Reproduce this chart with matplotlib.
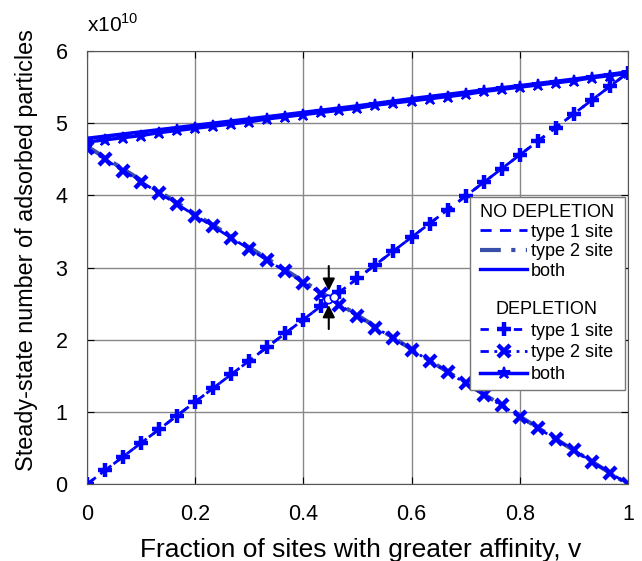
import matplotlib
matplotlib.use("Agg")
import matplotlib.pyplot as plt
import numpy as np
from matplotlib.lines import Line2D
from matplotlib.patches import Rectangle

plt.rcParams["font.family"] = ["Liberation Sans", "DejaVu Sans"]
plt.rcParams["mathtext.fontset"] = "custom"
plt.rcParams["mathtext.rm"] = "Liberation Sans"

# fraction of sites with greater affinity (31-point grid used by the depletion runs)
v_dep = np.linspace(0, 1, 31)
# values in units of 1e10 particles
dep_type1 = [0.00, 0.19, 0.38, 0.57, 0.76, 0.95, 1.14, 1.33, 1.52, 1.71, 1.90,
             2.09, 2.28, 2.47, 2.66, 2.85, 3.04, 3.23, 3.42, 3.61, 3.80,
             3.99, 4.18, 4.37, 4.56, 4.75, 4.94, 5.13, 5.32, 5.51, 5.70]
dep_type2 = [4.65, 4.50, 4.34, 4.19, 4.03, 3.88, 3.72, 3.57, 3.41, 3.26, 3.10,
             2.95, 2.79, 2.64, 2.48, 2.33, 2.17, 2.02, 1.86, 1.71, 1.55,
             1.40, 1.24, 1.09, 0.93, 0.78, 0.62, 0.47, 0.31, 0.16, 0.00]
dep_both = [4.74, 4.77, 4.80, 4.83, 4.87, 4.90, 4.93, 4.96, 4.99, 5.02, 5.06,
            5.09, 5.12, 5.15, 5.18, 5.21, 5.25, 5.28, 5.31, 5.34, 5.37,
            5.40, 5.44, 5.47, 5.50, 5.53, 5.56, 5.59, 5.63, 5.66, 5.69]

# no-depletion curves
v_nodep = [0.0, 0.1, 0.2, 0.3, 0.4, 0.5, 0.6, 0.7, 0.8, 0.9, 1.0]
nodep_type1 = [0.00, 0.57, 1.14, 1.71, 2.28, 2.85, 3.42, 3.99, 4.56, 5.13, 5.70]
nodep_type2 = [4.68, 4.21, 3.74, 3.28, 2.81, 2.34, 1.87, 1.40, 0.94, 0.47, 0.00]
nodep_both = [4.79, 4.88, 4.97, 5.06, 5.15, 5.24, 5.34, 5.43, 5.52, 5.61, 5.71]

# crossing points (open circles) and the arrows pointing at them
cross_v = [0.445, 0.456]
cross_y = [2.56, 2.59]
arrow_v = 0.447
arrow_down = (3.06, 2.64)
arrow_up = (2.11, 2.52)

BLUE = "#0000ff"
DARK = "#3a4fa8"

fig = plt.figure(figsize=(6.42, 5.61), dpi=100)
ax = fig.add_axes([0.1355, 0.137, 0.8425, 0.772])

# no depletion
ax.plot(v_nodep, nodep_both, color=BLUE, lw=2.6, ls="-")
ax.plot(v_nodep, nodep_type1, color=BLUE, lw=2, ls=(0, (4, 3)))
ax.plot(v_nodep, nodep_type2, color=DARK, lw=3, ls=(0, (5, 2.5, 1, 2.5)))

# depletion
ax.plot(v_dep, dep_type1, color=BLUE, lw=2, ls=(0, (3, 3)), marker="+",
        ms=10.5, mew=3.2)
ax.plot(v_dep, dep_type2, color=BLUE, lw=2, ls=(0, (3, 2, 1, 2)), marker="x",
        ms=9, mew=3.2)
ax.plot(v_dep, dep_both, color=BLUE, lw=2.5, ls="-", marker="*",
        ms=9, mew=1.5)

ax.plot(cross_v, cross_y, ls="none", marker="o", ms=6, mfc="white",
        mec=BLUE, mew=1.2, zorder=5)
ax.annotate("", xy=(arrow_v, arrow_down[1]), xytext=(arrow_v, arrow_down[0]),
            arrowprops=dict(arrowstyle="-|>", color="black", lw=1.5,
                            mutation_scale=18), zorder=6)
ax.annotate("", xy=(arrow_v, arrow_up[1]), xytext=(arrow_v, arrow_up[0]),
            arrowprops=dict(arrowstyle="-|>", color="black", lw=1.5,
                            mutation_scale=18), zorder=6)

ax.set_xlim(0, 1)
ax.set_ylim(0, 6)
ax.set_xticks([0, 0.2, 0.4, 0.6, 0.8, 1])
ax.set_xticklabels(["0", "0.2", "0.4", "0.6", "0.8", "1"])
ax.set_yticks([0, 1, 2, 3, 4, 5, 6])
ax.grid(True, color="#888888", lw=1)
ax.set_axisbelow(True)
ax.tick_params(direction="in", length=5, labelsize=15.5, pad=14,
               top=True, right=True)
for s in ax.spines.values():
    s.set_color("#555555")
ax.set_xlabel("Fraction of sites with greater affinity, v", fontsize=19,
              labelpad=8)
ax.xaxis.set_label_coords(0.505, -0.125)
ax.set_ylabel("Steady-state number of adsorbed particles", fontsize=16.8)
ax.yaxis.set_label_coords(-0.09, 0.54)
ax.text(0.0, 1.035, r"x10$^{10}$", transform=ax.transAxes, fontsize=15,
        ha="left", va="bottom")

# legend box with two sections
ax.add_patch(Rectangle((0.708, 0.217), 0.286, 0.447, transform=ax.transAxes,
                       facecolor="white", edgecolor="#777777", lw=1, zorder=7))
h_nodep = [
    Line2D([], [], color=BLUE, lw=2, ls=(0, (4, 3))),
    Line2D([], [], color=DARK, lw=3, ls=(0, (5, 2.5, 1, 2.5))),
    Line2D([], [], color=BLUE, lw=2.4),
]
h_dep = [
    Line2D([], [], color=BLUE, lw=2, ls=(0, (3, 3)), marker="+", ms=10.5, mew=3.2),
    Line2D([], [], color=BLUE, lw=2, ls=(0, (3, 2, 1, 2)), marker="x", ms=9, mew=3.2),
    Line2D([], [], color=BLUE, lw=2.5, marker="*", ms=9, mew=1.5),
]
labels = ["type 1 site", "type 2 site", "both"]
leg1 = ax.legend(h_nodep, labels, title="NO DEPLETION", alignment="left",
                 loc="upper left", bbox_to_anchor=(0.7, 0.68), frameon=False,
                 fontsize=13, title_fontsize=13, handlelength=2.6,
                 handletextpad=0.2, labelspacing=0.14, borderpad=0.3)
leg1.set_zorder(8)
ax.add_artist(leg1)
leg2 = ax.legend(h_dep, labels, title="DEPLETION", alignment="center",
                 loc="upper left", bbox_to_anchor=(0.7, 0.457), frameon=False,
                 fontsize=13, title_fontsize=13, handlelength=2.6,
                 handletextpad=0.2, labelspacing=0.27, borderpad=0.3)
leg2.set_zorder(8)

fig.savefig("out.png", dpi=100)
